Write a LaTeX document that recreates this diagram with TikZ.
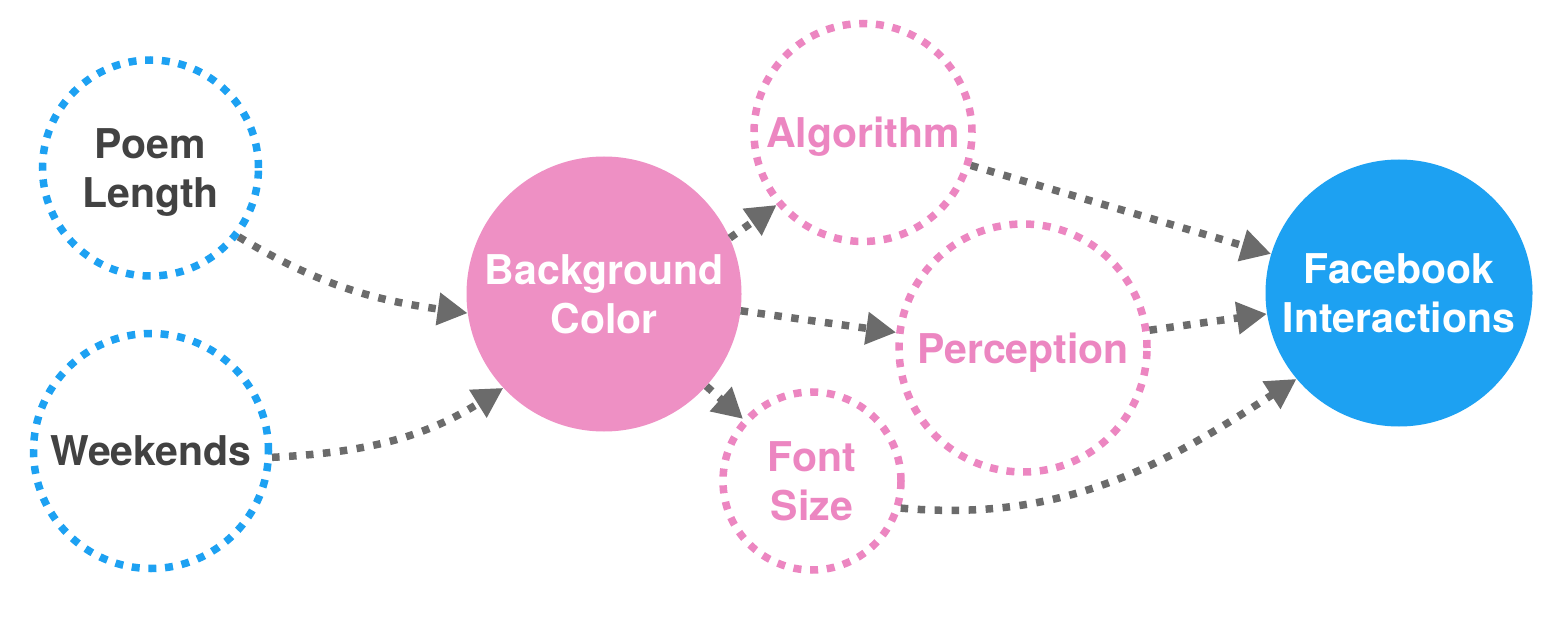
\documentclass[tikz,border=0pt]{standalone}
\usepackage{fontspec}
\setmainfont{TeX Gyre Heros}
\usetikzlibrary{arrows.meta}
\definecolor{bluec}{HTML}{1DA1F2}
\definecolor{pinkfill}{HTML}{EE90C4}
\definecolor{pinkline}{HTML}{EC86C1}
\definecolor{darktext}{HTML}{424242}
\definecolor{arrowgray}{HTML}{6B6B6B}
\tikzset{
  every node/.style={font=\fontsize{41}{49}\selectfont\bfseries, align=center, text depth=0pt, inner sep=0pt},
  ring/.style={circle, draw, line width=7.5pt, dash pattern=on 8pt off 8.7pt, minimum size=#1},
  bluering/.style={ring=#1, draw=bluec, text=darktext},
  pinkring/.style={ring=#1, draw=pinkline, text=pinkline},
  solidc/.style={circle, fill=#1, text=white, draw=none},
  link/.style={draw=arrowgray, line width=7.5pt, dash pattern=on 7.5pt off 9.5pt, -{Triangle[length=30pt,width=31pt]}}
}
\begin{document}
\begin{tikzpicture}[x=1pt,y=1pt]
\useasboundingbox[fill=white] (0,0) rectangle (1558,-636);
\node[bluering=216pt] (poem) at (150.5,-168) {Poem\\Length};
\node[bluering=235pt] (week) at (151,-451) {Weekends};
\node[solidc=pinkfill, minimum size=275pt] (bg) at (604,-294) {Background\\Color};
\node[pinkring=218pt] (alg) at (863,-132.5) {Algorithm};
\node[pinkring=248pt] (perc) at (1023,-348) {Perception};
\node[pinkring=178pt] (font) at (812,-481) {Font\\Size};
\node[solidc=bluec, minimum size=267pt] (fb) at (1399,-293) {Facebook\\Interactions};
\draw[link] (poem.-38) to[out=-31,in=172] (bg.188);
\draw[link] (week.-3) to[out=3,in=212] (bg.223);
\draw[link] (bg.24) -- (alg.220);
\draw[link] (bg.-7) -- (perc.173);
\draw[link] (bg.-42) -- (font.138);
\draw[link] (alg.-17) -- (fb.163);
\draw[link] (perc.8) -- (fb.189);
\draw[link] (font.-17) to[out=-5,in=213] (fb.220);
\end{tikzpicture}
\end{document}
